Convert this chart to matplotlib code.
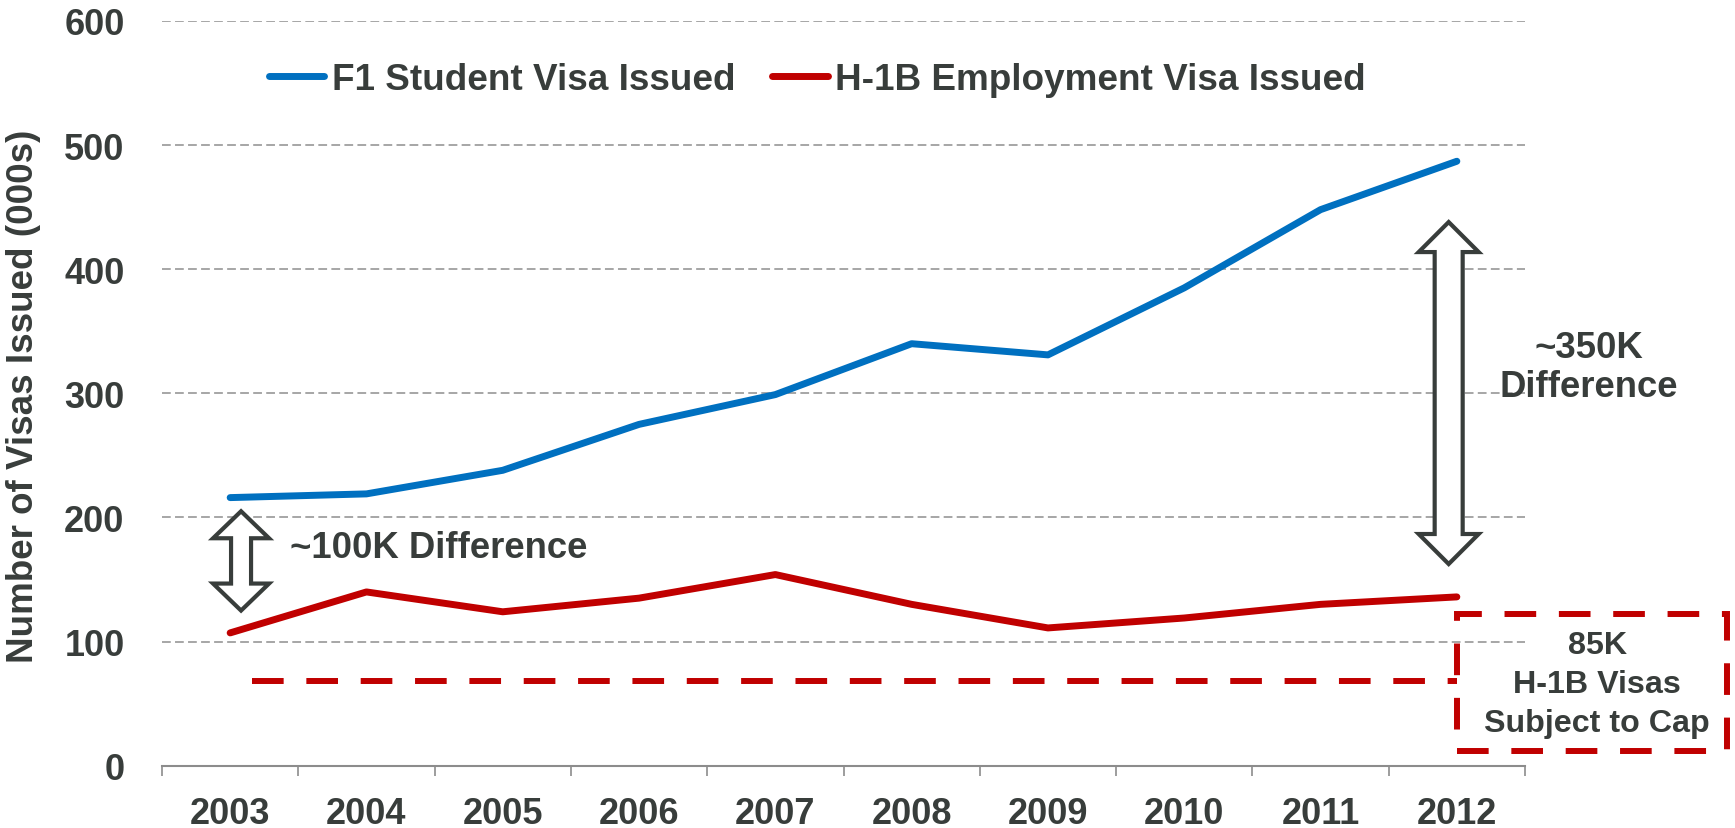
import numpy as np
import matplotlib
matplotlib.use("Agg")
import matplotlib.pyplot as plt
from matplotlib.patches import Polygon, Rectangle

years = ["2003", "2004", "2005", "2006", "2007", "2008", "2009", "2010", "2011", "2012"]
f1_visas = [216, 219, 238, 275, 299, 340, 331, 385, 448, 487]
h1b_visas = [107, 140, 124, 135, 154, 130, 111, 119, 130, 136]
h1b_cap_line = 68
y_ticks = [0, 100, 200, 300, 400, 500, 600]

TXT = "#383D3B"
BLUE = "#0070C0"
RED = "#C00000"

plt.rcParams["font.family"] = ["Liberation Sans", "DejaVu Sans"]
plt.rcParams["font.weight"] = "bold"

fig = plt.figure(figsize=(17.35, 8.29), dpi=100)
ax = fig.add_axes([162 / 1735, 62.3 / 829, (1525 - 162) / 1735, (807 - 62.3) / 829])

x = np.arange(len(years))
ax.plot(x, f1_visas, color=BLUE, lw=5, solid_capstyle="round", solid_joinstyle="round",
        label="F1 Student Visa Issued", zorder=3)
ax.plot(x, h1b_visas, color=RED, lw=5, solid_capstyle="round", solid_joinstyle="round",
        label="H-1B Employment Visa Issued", zorder=3)

ax.set_xlim(-0.5, len(years) - 0.5)
ax.set_ylim(0, 600)

# axes styling
for s in ["left", "right", "top"]:
    ax.spines[s].set_visible(False)
ax.spines["bottom"].set_color("#8C8C8C")
ax.spines["bottom"].set_linewidth(1.5)

ax.set_xticks(np.arange(len(years) + 1) - 0.5)
ax.set_xticklabels([])
ax.tick_params(axis="x", which="major", length=7.5, width=1.2, color="#8C8C8C")
ax.set_xticks(x, minor=True)
ax.set_xticklabels(years, minor=True, fontsize=26, color=TXT, fontweight="bold")
ax.tick_params(axis="x", which="minor", length=0, pad=22)

ax.set_yticks(y_ticks)
ax.set_yticklabels([str(v) for v in y_ticks], fontsize=26, color=TXT, fontweight="bold")
ax.tick_params(axis="y", length=0, pad=27)
for v in y_ticks[1:]:
    ax.axhline(v, color="#A6A6A6", lw=1.4, ls=(0, (4.5, 2.2)), zorder=1)

fig.text(24 / 1735, 1 - 396 / 829, "Number of Visas Issued (000s)", rotation=90,
         ha="center", va="center", fontsize=26.5, color=TXT, fontweight="bold")

leg = ax.legend(loc="center left", bbox_to_anchor=(269 / 1735, 1 - 80 / 829),
                bbox_transform=fig.transFigure, ncol=2, frameon=False, fontsize=26.6,
                handlelength=1.5, handletextpad=0.2, columnspacing=1.0,
                borderaxespad=0, borderpad=0)
for t in leg.get_texts():
    t.set_color(TXT)
    t.set_fontweight("bold")


def double_arrow(cx, y_top, y_bot, shaft_px, head_px, headlen_px):
    # hollow double-headed arrow, sizes in pixels
    to_px = ax.transData
    px_c, px_top = to_px.transform((cx, y_top))
    _, px_bot = to_px.transform((cx, y_bot))
    hs, hh = shaft_px / 2, head_px / 2
    pts = [
        (px_c, px_top), (px_c + hh, px_top - headlen_px), (px_c + hs, px_top - headlen_px),
        (px_c + hs, px_bot + headlen_px), (px_c + hh, px_bot + headlen_px), (px_c, px_bot),
        (px_c - hh, px_bot + headlen_px), (px_c - hs, px_bot + headlen_px),
        (px_c - hs, px_top - headlen_px), (px_c - hh, px_top - headlen_px),
    ]
    pts = to_px.inverted().transform(pts)
    ax.add_patch(Polygon(pts, closed=True, facecolor="white", edgecolor=TXT, lw=3,
                         joinstyle="miter", zorder=4, clip_on=False))


double_arrow(0.08, 205, 125, 20, 56, 27)
double_arrow(8.94, 438, 162.5, 28, 60, 30)

ax.text(0.44, 176, "~100K Difference", fontsize=26.3, color=TXT, fontweight="bold",
        ha="left", va="center")
ax.text(9.97, 321, "~350K\nDifference", fontsize=26.3, color=TXT, fontweight="bold",
        ha="center", va="center", linespacing=1.15, clip_on=False)

# H-1B cap line and box
ax.plot([0.16, 9.0], [h1b_cap_line, h1b_cap_line], color=RED, lw=4.3,
        ls=(0, (5.3, 3.8)), zorder=3)
ax.add_patch(Rectangle((9.0, 12), 1.98, 110, fill=False, edgecolor=RED, lw=4.3,
                       ls=(0, (5.3, 3.8)), joinstyle="miter", clip_on=False, zorder=3))
ax.text(10.03, 66, "85K\nH-1B Visas\nSubject to Cap", fontsize=23.2, color=TXT,
        fontweight="bold", ha="center", va="center", linespacing=1.4, clip_on=False)

fig.savefig("out.png", dpi=100)
